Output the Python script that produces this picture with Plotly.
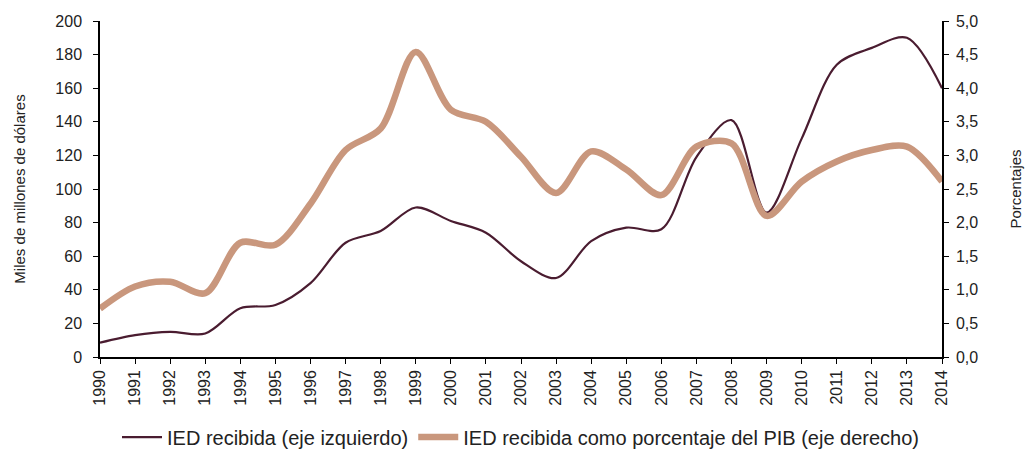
import plotly.graph_objects as go

years = list(range(1990, 2015))
ied_recibida = [8.5, 13, 15, 14, 29, 31, 44, 68, 75, 89, 81, 74, 57, 47, 69, 77, 76, 119, 141, 86, 130, 174, 184, 190, 160]
ied_pct_pib = [0.72, 1.05, 1.12, 0.95, 1.70, 1.67, 2.28, 3.08, 3.40, 4.54, 3.68, 3.50, 2.98, 2.44, 3.06, 2.79, 2.41, 3.13, 3.18, 2.10, 2.61, 2.91, 3.08, 3.13, 2.61]

left_ticks = list(range(0, 201, 20))
right_ticks = [i * 0.5 for i in range(11)]
right_labels = [f"{v:.1f}".replace(".", ",") for v in right_ticks]

dark = "#4a1c30"
tan = "#c9977d"
font_color = "#222222"
fam = "Liberation Sans, Arial"

fig = go.Figure()
fig.add_trace(go.Scatter(
    x=years, y=ied_recibida, mode="lines", name="IED recibida (eje izquierdo)",
    line=dict(color=dark, width=2.2, shape="spline", smoothing=0.9), yaxis="y"))
fig.add_trace(go.Scatter(
    x=years, y=ied_pct_pib, mode="lines", name="IED recibida como porcentaje del PIB (eje derecho)",
    line=dict(color=tan, width=6.5, shape="spline", smoothing=0.9), yaxis="y2"))

axis_common = dict(showgrid=False, zeroline=False, showline=True, linecolor="#000000",
                   linewidth=1.5, ticks="outside", ticklen=5, tickwidth=1.3, tickcolor="#000000",
                   tickfont=dict(family=fam, size=16, color=font_color))

fig.update_layout(
    width=1025, height=441,
    margin=dict(l=92, r=91, t=13, b=92, autoexpand=False),
    paper_bgcolor="white", plot_bgcolor="white",
    showlegend=True,
    legend=dict(orientation="h", x=0.5, xanchor="center", yref="container", y=0.027,
                yanchor="middle", font=dict(family=fam, size=20, color=font_color),
                itemwidth=40, tracegroupgap=0, bgcolor="rgba(0,0,0,0)"),
    xaxis=dict(range=[1990, 2014], tickvals=years, ticktext=[str(y) for y in years],
               tickangle=-90, **axis_common),
    yaxis=dict(range=[0, 200], tickvals=left_ticks, ticklabelstandoff=8,
               title=dict(text="Miles de millones de dólares", standoff=26,
                          font=dict(family=fam, size=15, color=font_color)),
               **axis_common),
    yaxis2=dict(range=[0, 5], tickvals=right_ticks, ticktext=right_labels, overlaying="y",
                side="right", ticklabelstandoff=4,
                title=dict(text="Porcentajes", standoff=33,
                           font=dict(family=fam, size=15, color=font_color)),
                **axis_common),
)

fig.write_html("out.html")
